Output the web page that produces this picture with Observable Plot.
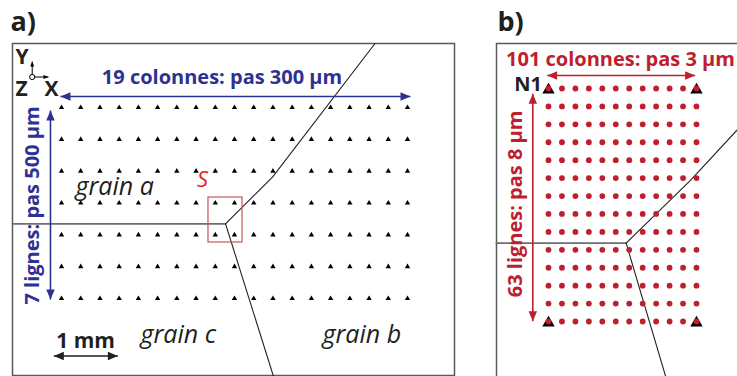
<!DOCTYPE html>
<html>
<head>
<meta charset="utf-8">
<script src="https://cdn.jsdelivr.net/npm/d3@7"></script>
<script src="https://cdn.jsdelivr.net/npm/@observablehq/plot@0.6"></script>
<style>
  body { margin: 0; background: white; }
  #fig { position: relative; width: 737px; height: 376px; overflow: hidden; }
  #fig > svg { position: absolute; top: 0; }
</style>
</head>
<body>
<div id="fig"></div>
<script>
// ---------------- data ----------------
const panelLabels = ["a)", "b)"];
// panel a: measurement grid, 19 columns x 7 rows, pitch 300 µm x 500 µm
const colsA = 19, rowsA = 7;
const pitchXA = 300, pitchYA = 500;   // µm
const scaleBarUm = 1000;              // 1 mm
const textsA = ["19 colonnes: pas 300 µm", "7 lignes: pas 500 µm", "1 mm", "grain a", "grain b", "grain c", "S"];
const axisLetters = ["Y", "Z", "X"];
// grain boundaries, panel a (µm)
const jointA_h  = [[-765, 1827], [2560, 1827]];
const jointA_ab = [[2560, 1827], [3293, 1093], [4893, -1005]];
const jointA_bc = [[2560, 1827], [3309, 4225]];
// zoomed zone "S" (µm)
const boxS = [{x1: 2294, x2: 2825, y1: 1414, y2: 2120}];

// panel b: schematic of the 101 x 63 grid (12 x 14 points drawn)
const colsB = 12, rowsB = 14;
const textsB = ["101 colonnes: pas 3 µm", "63 lignes: pas 8 µm", "N1"];
// grain boundaries, panel b (grid index units)
const jointB_h  = [[-3.87, 8.63], [5.77, 8.63]];
const jointB_ab = [[5.77, 8.63], [10.55, 5.13], [14.6, 1.84]];
const jointB_bc = [[5.77, 8.63], [8.8, 16.3]];

// ---------------- helpers ----------------
const BLUE = "#2e3192", RED = "#be1e2d", SRED = "#ed1c24", INK = "#231f20", FRAME = "#58595b";
const FONT = "Open Sans";

// arrow-head symbol with its tip at the anchor point
function head(dir, len, wid) {
  return {
    draw(ctx) {
      const pts = {
        up:    [[0, 0], [-wid / 2, len], [wid / 2, len]],
        down:  [[0, 0], [-wid / 2, -len], [wid / 2, -len]],
        left:  [[0, 0], [len, -wid / 2], [len, wid / 2]],
        right: [[0, 0], [-len, -wid / 2], [-len, wid / 2]]
      }[dir];
      ctx.moveTo(...pts[0]); ctx.lineTo(...pts[1]); ctx.lineTo(...pts[2]); ctx.closePath();
    }
  };
}
function arrowMarks(a, color, len, wid, sw, heads) {
  const marks = [Plot.link([a], {x1: "x1", y1: "y1", x2: "x2", y2: "y2", stroke: color, strokeWidth: sw})];
  for (const [end, dir] of heads) {
    const p = end === 1 ? {x: a.x1, y: a.y1} : {x: a.x2, y: a.y2};
    marks.push(Plot.dot([p], {x: "x", y: "y", symbol: head(dir, len, wid), fill: color, stroke: "none"}));
  }
  return marks;
}

const gridA = d3.cross(d3.range(colsA), d3.range(rowsA)).map(([i, j]) => ({x: i * pitchXA, y: j * pitchYA}));
const gridB = d3.cross(d3.range(colsB), d3.range(rowsB)).map(([i, j]) => ({x: i, y: j}));
const cornersB = gridB.filter(d => (d.x === 0 || d.x === colsB - 1) && (d.y === 0 || d.y === rowsB - 1));

// ---------------- panel a ----------------
const spanA = (colsA - 1) * pitchXA, spanYA = (rowsA - 1) * pitchYA;
const plotA = Plot.plot({
  width: 470, height: 376,
  marginTop: 43, marginLeft: 12, marginRight: 16, marginBottom: 1,
  x: {domain: [0, spanA], range: [61, 407], axis: null},
  y: {domain: [0, spanYA], range: [107, 298], axis: null},
  style: {background: "white", fontFamily: FONT, overflow: "visible"},
  marks: [
    Plot.frame({stroke: FRAME, strokeWidth: 1.5}),
    Plot.line(jointA_h, {stroke: "#6d6e71", strokeWidth: 1.8}),
    Plot.line(jointA_ab, {stroke: INK, strokeWidth: 1.1}),
    Plot.line(jointA_bc, {stroke: INK, strokeWidth: 1.1}),
    Plot.rect(boxS, {x1: "x1", x2: "x2", y1: "y1", y2: "y2", fill: "none", stroke: "#c9545f", strokeWidth: 1.2}),
    Plot.dot(gridA, {x: "x", y: "y", symbol: "triangle", r: 2.0, fill: "black", stroke: "none"}),
    // horizontal extent arrow
    ...arrowMarks({x1: -16, y1: -173, x2: 5447, y2: -173}, BLUE, 10, 8.5, 1.6, [[1, "left"], [2, "right"]]),
    // vertical extent arrow
    ...arrowMarks({x1: -172, y1: 47, x2: -172, y2: 3016}, BLUE, 10, 8.5, 1.6, [[1, "up"], [2, "down"]]),
    // scale bar
    ...arrowMarks({x1: -120, y1: 3903, x2: -120 + scaleBarUm, y2: 3903}, INK, 10, 8.5, 1.5, [[1, "left"], [2, "right"]]),
    // axis glyph
    ...arrowMarks({x1: -457, y1: -479, x2: -457, y2: -722}, "black", 5, 4, 1, [[2, "up"]]),
    ...arrowMarks({x1: -457, y1: -479, x2: -203, y2: -479}, "black", 5, 4, 1, [[2, "right"]]),
    Plot.dot([{x: -457, y: -479}], {x: "x", y: "y", r: 2.6, fill: "white", stroke: "black", strokeWidth: 1}),
    Plot.text([axisLetters[0]], {x: -616, y: -793, text: d => d, fontSize: 21, fontWeight: "bold", fill: INK}),
    Plot.text([axisLetters[1]], {x: -624, y: -283, text: d => d, fontSize: 21, fontWeight: "bold", fill: INK}),
    Plot.text([axisLetters[2]], {x: -156, y: -283, text: d => d, fontSize: 21, fontWeight: "bold", fill: INK}),
    // labels
    Plot.text([panelLabels[0]], {x: -796, y: -1340, text: d => d, textAnchor: "start", fontSize: 27, fontWeight: "bold", fill: INK}),
    Plot.text([textsA[0]], {x: 2505, y: -473, text: d => d, fontSize: 20, fontWeight: "bold", fill: BLUE}),
    Plot.text([textsA[1]], {x: -453, y: 1539, text: d => d, rotate: -90, fontSize: 20, fontWeight: "bold", fill: BLUE}),
    Plot.text([textsA[2]], {x: 375, y: 3664, text: d => d, fontSize: 21, fontWeight: "bold", fill: INK}),
    Plot.text([textsA[3]], {x: 218, y: 1241, text: d => d, textAnchor: "start", fontSize: 25, fontStyle: "italic", fill: INK}),
    Plot.text([textsA[4]], {x: 4073, y: 3578, text: d => d, textAnchor: "start", fontSize: 25, fontStyle: "italic", fill: INK}),
    Plot.text([textsA[5]], {x: 1233, y: 3578, text: d => d, textAnchor: "start", fontSize: 25, fontStyle: "italic", fill: INK}),
    Plot.text([textsA[6]], {x: 2200, y: 1139, text: d => d, fontSize: 22, fontStyle: "italic", fill: SRED})
  ]
});
plotA.style.left = "0px";

// ---------------- panel b ----------------
const plotB = Plot.plot({
  width: 267, height: 376,
  marginTop: 43, marginLeft: 26, marginRight: -4, marginBottom: -4,
  x: {domain: [0, colsB - 1], range: [78, 226], axis: null},
  y: {domain: [0, rowsB - 1], range: [88, 321], axis: null},
  style: {background: "white", fontFamily: FONT},
  marks: [
    Plot.frame({stroke: FRAME, strokeWidth: 1.5}),
    Plot.line(jointB_h, {stroke: "#6d6e71", strokeWidth: 1.8}),
    Plot.line(jointB_ab, {stroke: INK, strokeWidth: 1.1}),
    Plot.line(jointB_bc, {stroke: INK, strokeWidth: 1.1}),
    Plot.dot(cornersB, {x: "x", y: "y", symbol: "triangle", r: 4.6, dy: 1.4, fill: "black", stroke: "none"}),
    Plot.dot(gridB, {x: "x", y: "y", r: 2.9, fill: RED, stroke: "none"}),
    ...arrowMarks({x1: -0.1, y1: -0.725, x2: 10.9, y2: -0.725}, RED, 10, 8.5, 1.6, [[1, "left"], [2, "right"]]),
    ...arrowMarks({x1: -1.166, y1: 0.296, x2: -1.166, y2: 12.98}, RED, 10, 8.5, 1.6, [[1, "up"], [2, "down"]]),
    Plot.text([panelLabels[1]], {x: -3.79, y: -3.70, text: d => d, textAnchor: "start", fontSize: 27, fontWeight: "bold", fill: INK}),
    Plot.text([textsB[0]], {x: 5.35, y: -1.62, text: d => d, fontSize: 20, fontWeight: "bold", fill: RED}),
    Plot.text([textsB[1]], {x: -2.45, y: 6.44, text: d => d, rotate: -90, fontSize: 20, fontWeight: "bold", fill: RED}),
    Plot.text([textsB[2]], {x: -1.52, y: -0.23, text: d => d, fontSize: 20, fontWeight: "bold", fill: INK})
  ]
});
plotB.style.left = "470px";

document.getElementById("fig").append(plotA, plotB);
</script>
</body>
</html>
